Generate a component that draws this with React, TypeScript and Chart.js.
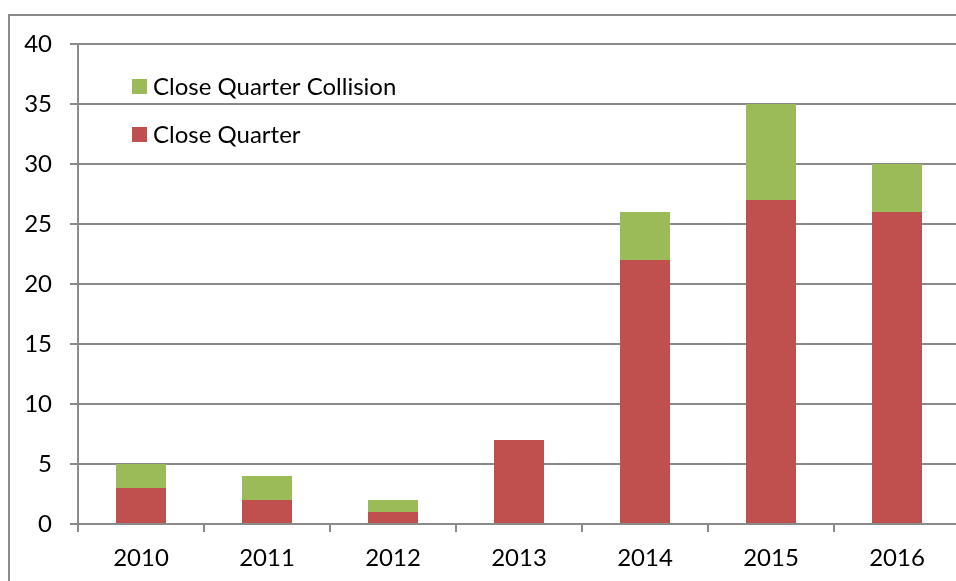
import React, { useEffect, useRef } from "react";
import { Chart, registerables } from "chart.js";

Chart.register(...registerables);

const years = ["2010", "2011", "2012", "2013", "2014", "2015", "2016"];
const closeQuarter = [3, 2, 1, 7, 22, 27, 26];
const closeQuarterCollision = [2, 2, 1, 0, 4, 8, 4];
const yTicks = [0, 5, 10, 15, 20, 25, 30, 35, 40];

const RED = "#C0504D";
const GREEN = "#9BBB59";
const GRID = "#8A8A8A";
const FONT = "Lato, 'Open Sans', sans-serif";
const FS = 24;

const framePlugin = {
  id: "frame",
  beforeDraw(chart: any) {
    const ctx = chart.ctx;
    ctx.save();
    ctx.fillStyle = "#ffffff";
    ctx.fillRect(0, 0, chart.width, chart.height);
    ctx.strokeStyle = GRID;
    ctx.lineWidth = 2;
    ctx.beginPath();
    ctx.moveTo(9, chart.height + 5);
    ctx.lineTo(9, 15);
    ctx.lineTo(chart.width + 5, 15);
    ctx.stroke();
    ctx.restore();
  },
};

const legendPlugin = {
  id: "insideLegend",
  afterDraw(chart: any) {
    const ctx = chart.ctx;
    const items = [...chart.data.datasets].reverse();
    ctx.save();
    ctx.font = `${FS}px ${FONT}`;
    ctx.textBaseline = "middle";
    ctx.textAlign = "left";
    items.forEach((ds: any, i: number) => {
      const cy = 86 + i * 48;
      ctx.fillStyle = ds.backgroundColor;
      ctx.fillRect(132, cy - 7, 15, 15);
      ctx.fillStyle = "#000";
      ctx.fillText(ds.label, 153, cy + 1);
    });
    ctx.restore();
  },
};

export default function App() {
  const ref = useRef<HTMLCanvasElement>(null);
  useEffect(() => {
    if (!ref.current) return;
    const chart = new Chart(ref.current, {
      type: "bar",
      data: {
        labels: years,
        datasets: [
          {
            label: "Close Quarter",
            data: closeQuarter,
            backgroundColor: RED,
            categoryPercentage: 1,
            barPercentage: 0.397,
          },
          {
            label: "Close Quarter Collision",
            data: closeQuarterCollision,
            backgroundColor: GREEN,
            categoryPercentage: 1,
            barPercentage: 0.397,
          },
        ],
      },
      options: {
        animation: false,
        responsive: false,
        devicePixelRatio: 1,
        layout: { padding: { top: 44, right: 10, left: 0, bottom: 0 } },
        plugins: { legend: { display: false }, tooltip: { enabled: false } },
        scales: {
          x: {
            stacked: true,
            offset: true,
            grid: {
              offset: true,
              drawOnChartArea: false,
              drawTicks: true,
              tickLength: 8,
              color: GRID,
              lineWidth: 2,
            },
            border: { display: true, color: GRID, width: 2 },
            ticks: { color: "#000", font: { family: FONT, size: FS }, padding: 12 },
            afterFit: (s: any) => {
              s.height = 57;
            },
          },
          y: {
            stacked: true,
            min: 0,
            max: 40,
            afterBuildTicks: (s: any) => {
              s.ticks = yTicks.map((v) => ({ value: v }));
            },
            grid: {
              drawTicks: true,
              tickLength: 8,
              color: GRID,
              lineWidth: 2,
            },
            border: { display: true, color: GRID, width: 2 },
            ticks: { color: "#000", font: { family: FONT, size: FS }, padding: 18 },
            afterFit: (s: any) => {
              s.width = 78;
            },
          },
        },
      },
      plugins: [framePlugin, legendPlugin],
    });
    return () => chart.destroy();
  }, []);
  return (
    <div
      style={{
        position: "fixed",
        left: 0,
        top: 0,
        width: 956,
        height: 581,
        overflow: "hidden",
        background: "#fff",
      }}
    >
      <canvas ref={ref} width={970} height={581} style={{ display: "block" }} />
    </div>
  );
}
